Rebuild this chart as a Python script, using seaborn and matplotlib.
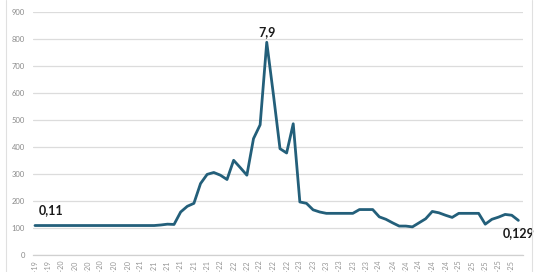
import matplotlib
matplotlib.use("Agg")
import matplotlib.pyplot as plt
from matplotlib.lines import Line2D
import seaborn as sns
import pandas as pd

months = [
    "set-19", "out-19", "nov-19", "dez-19",
    "jan-20", "fev-20", "mar-20", "abr-20", "mai-20", "jun-20", "jul-20", "ago-20", "set-20", "out-20", "nov-20", "dez-20",
    "jan-21", "fev-21", "mar-21", "abr-21", "mai-21", "jun-21", "jul-21", "ago-21", "set-21", "out-21", "nov-21", "dez-21",
    "jan-22", "fev-22", "mar-22", "abr-22", "mai-22", "jun-22", "jul-22", "ago-22", "set-22", "out-22", "nov-22", "dez-22",
    "jan-23", "fev-23", "mar-23", "abr-23", "mai-23", "jun-23", "jul-23", "ago-23", "set-23", "out-23", "nov-23", "dez-23",
    "jan-24", "fev-24", "mar-24", "abr-24", "mai-24", "jun-24", "jul-24", "ago-24", "set-24", "out-24", "nov-24", "dez-24",
    "jan-25", "fev-25", "mar-25", "abr-25", "mai-25", "jun-25", "jul-25", "ago-25", "set-25", "out-25",
]

values = [
    110, 110, 110, 110,
    110, 110, 110, 110, 110, 110, 110, 110, 110, 110, 110, 110,
    110, 110, 110, 112, 115, 114, 160, 181, 192, 265, 299, 306,
    296, 280, 351, 324, 296, 431, 482, 787, 595, 394, 378, 486,
    197, 192, 168, 160, 155, 155, 155, 155, 155, 169, 169, 169,
    142, 133, 120, 108, 108, 105, 120, 135, 162, 157, 148, 140,
    155, 155, 155, 155, 115, 133, 141, 151, 148, 129,
]

y_ticks = [0, 100, 200, 300, 400, 500, 600, 700, 800, 900]

annotations = [
    (0, "0,11"),
    (35, "7,9"),
    (73, "0,129"),
]

df = pd.DataFrame({"idx": range(len(values)), "valor": values})

sns.set_style("white")
plt.rcParams["font.family"] = ["Lato", "DejaVu Sans"]

fig = plt.figure(figsize=(5.4, 2.72), dpi=100)
ax = fig.add_axes([33 / 540, 16.7 / 272, 490 / 540, 243.6 / 272])

sns.lineplot(data=df, x="idx", y="valor", ax=ax, color="#235f7a", linewidth=2.0)

ax.set_xlim(-0.3, 73.7)
ax.set_ylim(0, 900)
ax.set_yticks(y_ticks)
ax.set_yticklabels([str(t) for t in y_ticks], fontsize=5.5, color="#8a8a8a")
ax.yaxis.grid(True, color="#dcdcdc", linewidth=0.9)
ax.set_axisbelow(True)

tick_pos = list(range(0, len(months), 2))
ax.set_xticks(tick_pos)
ax.set_xticklabels([months[i] for i in tick_pos], rotation=90, fontsize=5.2, color="#959595")
ax.tick_params(axis="x", length=2, color="#d0d0d0", pad=1.5)
ax.tick_params(axis="y", length=0, pad=6)

for s in ["top", "right", "left"]:
    ax.spines[s].set_visible(False)
ax.spines["bottom"].set_color("#d0d0d0")
ax.spines["bottom"].set_linewidth(0.9)

ax.set_xlabel("")
ax.set_ylabel("")

# annotations
i0, t0 = annotations[0]
ax.annotate(t0, (i0, values[i0]), xytext=(3, 7), textcoords="offset points",
            ha="left", va="bottom", fontsize=9, fontweight="bold", color="#1a1a1a")
i1, t1 = annotations[1]
ax.annotate(t1, (i1, values[i1]), xytext=(0, 3), textcoords="offset points",
            ha="center", va="bottom", fontsize=9, fontweight="bold", color="#1a1a1a")
i2, t2 = annotations[2]
ax.annotate(t2, (i2, values[i2]), xytext=(0, -5), textcoords="offset points",
            ha="center", va="top", fontsize=9, fontweight="bold", color="#1a1a1a")

# chart-area border
fig.add_artist(Line2D([6 / 540, 6 / 540], [0, 1], transform=fig.transFigure, color="#e0e0e0", lw=0.8))
fig.add_artist(Line2D([531.5 / 540, 531.5 / 540], [0, 1], transform=fig.transFigure, color="#e0e0e0", lw=0.8))

fig.savefig("out.png", dpi=100)
